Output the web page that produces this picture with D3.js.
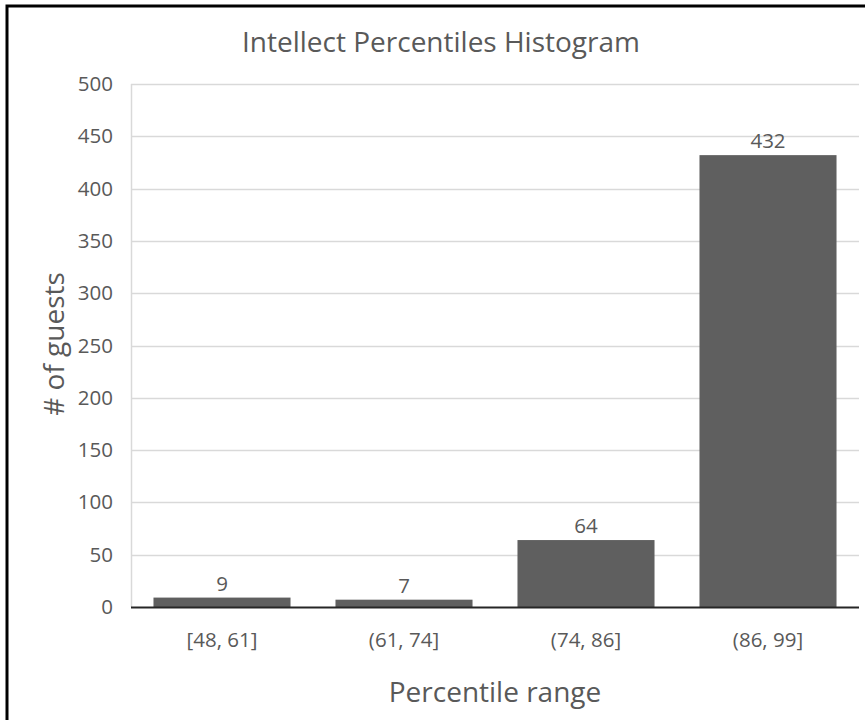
<!DOCTYPE html>
<html>
<head>
<meta charset="utf-8">
<script src="https://cdn.jsdelivr.net/npm/d3@7"></script>
<style>
  html, body { margin: 0; padding: 0; background: #fff; }
  svg { display: block; }
  text { font-family: "Open Sans", "Noto Sans", sans-serif; fill: #595959; }
</style>
</head>
<body>
<svg id="chart" width="865" height="720"></svg>
<script>
// Histogram bins and guest counts
const categories = ["[48, 61]", "(61, 74]", "(74, 86]", "(86, 99]"];
const counts = [9, 7, 64, 432];
const yTicks = [0, 50, 100, 150, 200, 250, 300, 350, 400, 450, 500];

const chartTitle = "Intellect Percentiles Histogram";
const xTitle = "Percentile range";
const yTitle = "# of guests";

const svg = d3.select("#chart");
const W = 865, H = 720;
const plot = { left: 131, right: 859, top: 84, bottom: 607 };

// outer frame
svg.append("rect")
  .attr("x", 7).attr("y", 6)
  .attr("width", W + 20).attr("height", H + 20)
  .attr("fill", "none").attr("stroke", "#000").attr("stroke-width", 3);

const x = d3.scaleBand()
  .domain(categories)
  .range([plot.left, plot.right])
  .paddingInner(0.247)
  .paddingOuter(0.1235);

const y = d3.scaleLinear()
  .domain([0, 500])
  .range([plot.bottom, plot.top]);

// horizontal gridlines
svg.append("g")
  .selectAll("line")
  .data(yTicks.filter(d => d > 0))
  .join("line")
  .attr("x1", plot.left).attr("x2", plot.right)
  .attr("y1", d => Math.round(y(d)) + 0.5).attr("y2", d => Math.round(y(d)) + 0.5)
  .attr("stroke", "#d9d9d9").attr("stroke-width", 1.5);

// left vertical line of the plot area
svg.append("line")
  .attr("x1", plot.left + 0.5).attr("x2", plot.left + 0.5)
  .attr("y1", y(500)).attr("y2", y(0))
  .attr("stroke", "#d9d9d9").attr("stroke-width", 1.5);

// y axis tick labels
const yAxis = d3.axisLeft(y).tickValues(yTicks).tickSize(0).tickPadding(18);
const yg = svg.append("g")
  .attr("transform", `translate(${plot.left},0)`)
  .call(yAxis);
yg.select(".domain").remove();
yg.selectAll("text")
  .attr("font-size", 20.5)
  .attr("fill", "#595959")
  .attr("font-family", "'Open Sans', sans-serif");

// bars
svg.append("g")
  .selectAll("rect")
  .data(categories.map((c, i) => ({ c, v: counts[i] })))
  .join("rect")
  .attr("x", d => x(d.c))
  .attr("y", d => y(d.v))
  .attr("width", x.bandwidth())
  .attr("height", d => y(0) - y(d.v))
  .attr("fill", "#5f5f5f");

// value labels
svg.append("g")
  .selectAll("text")
  .data(categories.map((c, i) => ({ c, v: counts[i] })))
  .join("text")
  .attr("x", d => x(d.c) + x.bandwidth() / 2)
  .attr("y", d => y(d.v) - 7)
  .attr("text-anchor", "middle")
  .attr("font-size", 20.5)
  .text(d => d.v);

// x axis baseline and category labels
const xAxis = d3.axisBottom(x).tickSize(0).tickPadding(0);
const xg = svg.append("g")
  .attr("transform", `translate(0,${plot.bottom})`)
  .call(xAxis);
xg.select(".domain")
  .attr("d", `M${plot.left},0.5H${plot.right}`)
  .attr("stroke", "#262626").attr("stroke-width", 2);
xg.selectAll("text")
  .attr("font-size", 20.5)
  .attr("fill", "#595959")
  .attr("font-family", "'Open Sans', sans-serif")
  .attr("dy", 0)
  .attr("y", 40);

// titles
svg.append("text")
  .attr("x", 441).attr("y", 52)
  .attr("text-anchor", "middle")
  .attr("font-size", 28)
  .text(chartTitle);

svg.append("text")
  .attr("x", 495).attr("y", 702)
  .attr("text-anchor", "middle")
  .attr("font-size", 28)
  .text(xTitle);

svg.append("text")
  .attr("transform", "translate(64,344) rotate(-90)")
  .attr("text-anchor", "middle")
  .attr("font-size", 28)
  .text(yTitle);
</script>
</body>
</html>
